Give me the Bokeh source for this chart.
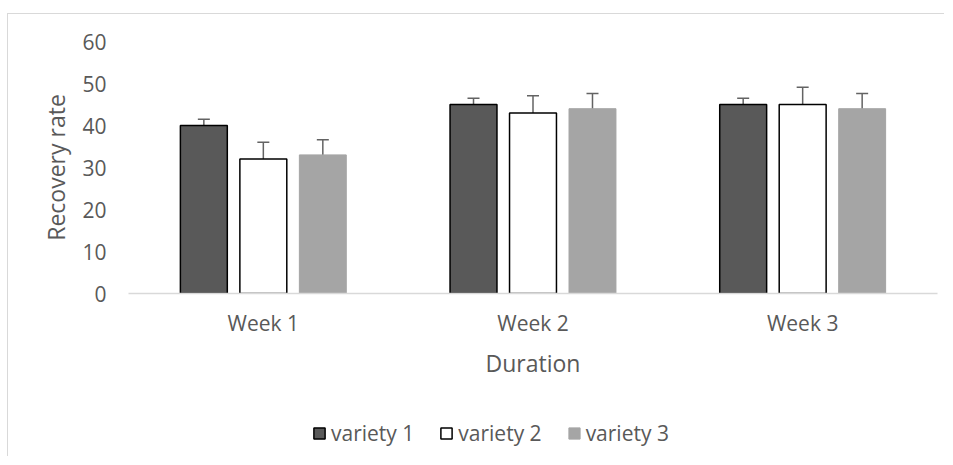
from bokeh.plotting import figure
from bokeh.layouts import column
from bokeh.models import (ColumnDataSource, FactorRange, Range1d, FixedTicker,
                          Whisker, TeeHead, Legend, LegendItem)
from bokeh.transform import dodge
from bokeh.embed import file_html
from bokeh.resources import INLINE

# ---- data ----
weeks = ["Week 1", "Week 2", "Week 3"]
variety1 = [40, 45, 45]
variety2 = [32, 43, 45]
variety3 = [33, 44, 44]
err1 = [1.5, 1.5, 1.5]
err2 = [4.0, 4.1, 4.1]
err3 = [3.6, 3.6, 3.6]
series_names = ["variety 1", "variety 2", "variety 3"]
y_ticks = [0, 10, 20, 30, 40, 50, 60]

FONT = "Open Sans"
TXT = "#595959"

# ---- main chart ----
p = figure(x_range=FactorRange(factors=weeks, range_padding=0),
           y_range=Range1d(0, 60),
           width=936, height=369, output_backend="svg", toolbar_location=None,
           min_border_left=120, min_border_right=7, min_border_top=27,
           min_border_bottom=90)
p.outline_line_color = None
p.xgrid.grid_line_color = None
p.ygrid.grid_line_color = None

styles = [
    ("#595959", "black", 1.5),
    ("white", "black", 1.5),
    ("#a5a5a5", "#a5a5a5", 1.0),
]
series = [(variety1, err1, -0.2206), (variety2, err2, 0.0), (variety3, err3, 0.2206)]

sources = []
for (vals, errs, off), (fill, line, lw) in zip(series, styles):
    src = ColumnDataSource(dict(
        week=weeks, val=vals,
        upper=[v + e for v, e in zip(vals, errs)],
        lower=[v - e for v, e in zip(vals, errs)],
    ))
    sources.append(src)
    p.vbar(x=dodge("week", off, range=p.x_range), top="val", width=0.174,
           source=src, fill_color=fill, line_color=line, line_width=lw)
    p.add_layout(Whisker(base=dodge("week", off, range=p.x_range), upper="upper", lower="lower",
                         source=src, line_color="#636363", line_width=1.5,
                         upper_head=TeeHead(size=12, line_color="#636363", line_width=1.5),
                         lower_head=TeeHead(size=12, line_color="#636363", line_width=1.5)))

p.yaxis.ticker = FixedTicker(ticks=y_ticks)
p.yaxis.axis_line_color = None
p.yaxis.major_tick_line_color = None
p.yaxis.minor_tick_line_color = None
p.yaxis.major_tick_out = 0
p.yaxis.major_label_standoff = 22
p.yaxis.axis_label = "Recovery rate"
p.yaxis.axis_label_standoff = 7

p.xaxis.axis_line_color = "#d9d9d9"
p.xaxis.axis_line_width = 1.5
p.xaxis.major_tick_line_color = None
p.xaxis.minor_tick_line_color = None
p.xaxis.major_tick_out = 0
p.xaxis.major_label_standoff = 15
p.xaxis.axis_label = "Duration"
p.xaxis.axis_label_standoff = 7

for ax in (p.xaxis, p.yaxis):
    ax.major_label_text_font = FONT
    ax.major_label_text_font_size = "21px"
    ax.major_label_text_color = TXT
    ax.axis_label_text_font = FONT
    ax.axis_label_text_font_size = "23px"
    ax.axis_label_text_color = TXT
    ax.axis_label_text_font_style = "normal"

# ---- legend strip (legend keys only; their glyphs fall outside this strip's range) ----
p2 = figure(width=936, height=73, x_range=FactorRange(factors=["key"]), y_range=Range1d(1000, 1001),
            x_axis_type=None, y_axis_type=None, output_backend="svg",
            toolbar_location=None, min_border=0)
p2.outline_line_color = None
p2.grid.visible = False
keys = [p2.vbar(x="week", top="val", width=0.1, source=src,
                fill_color=fill, line_color=line, line_width=lw)
        for src, (fill, line, lw) in zip(sources, styles)]
legend = Legend(items=[LegendItem(label=n, renderers=[r]) for n, r in zip(series_names, keys)],
                orientation="horizontal", location=(184, 9),
                glyph_width=14, glyph_height=14, label_standoff=5, spacing=25,
                padding=0, margin=0, border_line_color=None, background_fill_alpha=0,
                label_text_font=FONT, label_text_font_size="21px", label_text_color=TXT)
p2.add_layout(legend)

layout = column(p, p2, spacing=0,
                styles={"border-top": "1px solid #d9d9d9", "border-left": "1px solid #d9d9d9",
                        "margin-top": "13px", "margin-left": "7px"})

open("out.html", "w").write(file_html(layout, INLINE))
